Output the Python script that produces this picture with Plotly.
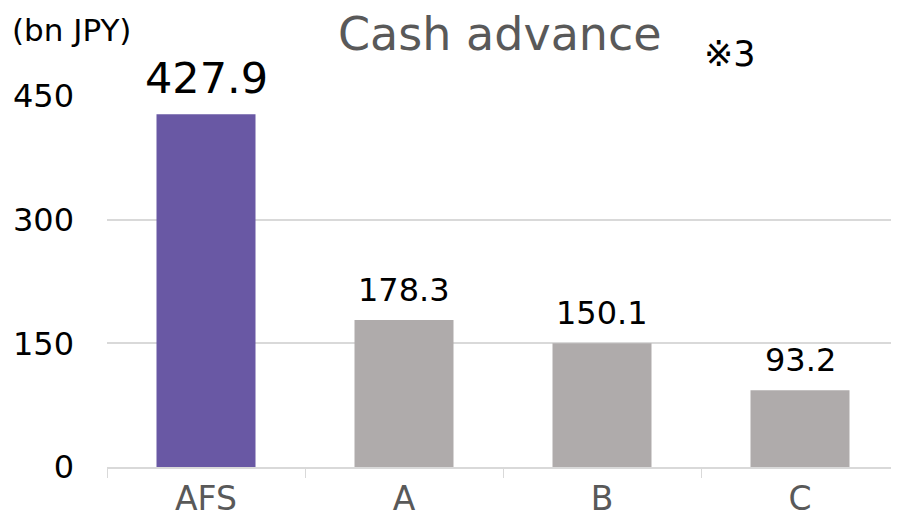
import plotly.graph_objects as go

categories = ["AFS", "A", "B", "C"]
values = [427.9, 178.3, 150.1, 93.2]
labels = ["427.9", "178.3", "150.1", "93.2"]
colors = ["#6958A4", "#AFABAB", "#AFABAB", "#AFABAB"]
label_sizes = [43, 32, 32, 32]
y_ticks = [0, 150, 300, 450]

FONT = "DejaVu Sans, Verdana, sans-serif"

fig = go.Figure(go.Bar(
    x=categories, y=values,
    marker=dict(color=colors, line=dict(width=0)),
    cliponaxis=False, hoverinfo="x+y",
))

annotations = []
for c, v, t, s in zip(categories, values, labels, label_sizes):
    annotations.append(dict(
        x=c, y=v, xref="x", yref="y", text=t, showarrow=False,
        xanchor="center", yanchor="bottom", yshift=9,
        font=dict(size=s, color="#000000", family=FONT),
    ))

annotations += [
    dict(text="(bn JPY)", xref="paper", yref="paper", x=-0.122, y=1.178,
         xanchor="left", yanchor="middle", showarrow=False,
         font=dict(size=31, color="#000000", family=FONT)),
    dict(text="Cash advance", xref="paper", yref="paper", x=0.496, y=1.168,
         xanchor="center", yanchor="middle", showarrow=False,
         font=dict(size=46, color="#595959", family=FONT)),
    dict(text="※3", xref="paper", yref="paper", x=0.751, y=1.113,
         xanchor="left", yanchor="middle", showarrow=False,
         font=dict(size=35, color="#000000", family=FONT)),
]

fig.update_layout(
    width=891, height=511,
    margin=dict(l=99, r=0, t=88, b=52),
    paper_bgcolor="white", plot_bgcolor="white",
    bargap=0.5, showlegend=False,
    font=dict(family=FONT),
    xaxis=dict(
        showgrid=False, showline=True, linecolor="#D9D9D9", linewidth=1.5,
        ticks="outside", tickson="boundaries", ticklen=9, tickcolor="#D9D9D9",
        tickfont=dict(size=33, color="#595959", family=FONT),
        ticklabelstandoff=2, automargin=False,
    ),
    yaxis=dict(
        range=[0, 450], tickvals=y_ticks, showgrid=True, gridcolor="#D9D9D9",
        gridwidth=1.5, zeroline=False, showline=False,
        tickfont=dict(size=32, color="#000000", family=FONT),
        ticklabelstandoff=32, automargin=False,
    ),
    annotations=annotations,
)

fig.write_html("out.html")
